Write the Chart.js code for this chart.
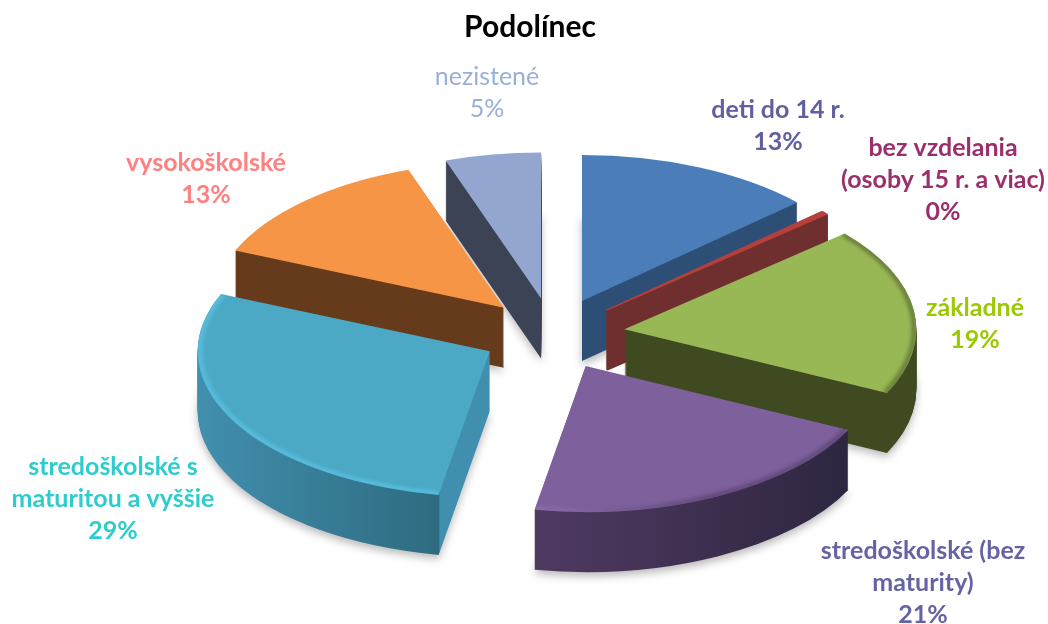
<!DOCTYPE html>
<html>
<head>
<meta charset="utf-8">
<title>Podolínec</title>
<script src="https://cdn.jsdelivr.net/npm/chart.js@4"></script>
<style>
	html, body { margin: 0; padding: 0; background: #fff; }
	canvas { display: block; }
</style>
</head>
<body>
<canvas id="chart" width="1048" height="624"></canvas>
<script>
// Chart data
var chartTitle = 'Podolínec';
var categories = [
	['deti do 14 r.'],
	['bez vzdelania', '(osoby 15 r. a viac)'],
	['základné'],
	['stredoškolské (bez', 'maturity)'],
	['stredoškolské s', 'maturitou a vyššie'],
	['vysokoškolské'],
	['nezistené']
];
var shares = [13.2, 0.4, 18.6, 20.6, 28.6, 13.3, 5.3];

// Colours
var faceColors = ['#4b7db8', '#b5403c', '#98b855', '#7e609c', '#4ba9c5', '#f69545', '#92a6cf'];
var wallLeft = ['#2d4e75', '#6f2f2f', '#3f4a20', '#4f3a62', '#418fae', '#653b1b', '#3b4355'];
var wallRight = ['#2d4e75', '#6f2f2f', '#3f4a20', '#2e2640', '#2e6b80', '#653b1b', '#3b4355'];
var rimLeft = [null, null, '#46522a', '#a487c4', '#62cdf0', null, null];
var rimRight = [null, null, '#46522a', '#4a3a62', '#62cdf0', null, null];
var labelColors = ['#6060a0', '#9b2f6b', '#9bc800', '#6464a4', '#2ecccc', '#ff8080', '#98b0d8'];
var labelWeights = ['bold', 'bold', 'bold', 'bold', 'bold', 'bold', 'normal'];

// Layout of the tilted pie
var pieX = 553, pieY = 334, squash = 0.5, depth = 60, explode = 72, pieRadius = 292;
var labelX = [778, 943, 975, 923, 113, 206, 487];
var labelY = [110, 148, 308, 551, 467, 163, 77];
var lineHeight = 32;

function withSliceTransform(ctx, arc, lift) {
	var mid = (arc.startAngle + arc.endAngle) / 2;
	ctx.translate(pieX, pieY + lift);
	ctx.scale(1, squash);
	ctx.translate(Math.cos(mid) * explode - arc.x, Math.sin(mid) * explode - arc.y);
}

function drawArcAs(ctx, arc, color, outline) {
	var saved = arc.options;
	var opts = Object.create(saved);
	opts.backgroundColor = color;
	opts.borderColor = color;
	opts.borderWidth = outline;
	arc.options = opts;
	arc.draw(ctx);
	arc.options = saved;
}

// horizontal shade over the curved wall, a radial wall past the front corner stays light
// (coordinates are local to the arc, the gradient is used inside withSliceTransform)
function wallGradient(ctx, arc, i) {
	var x1 = arc.x + Math.cos(arc.startAngle) * arc.outerRadius;
	var x2 = arc.x + Math.cos(arc.endAngle) * arc.outerRadius;
	var left = Math.min(x1, x2, arc.x);
	if (arc.startAngle < Math.PI && arc.endAngle > Math.PI) left = arc.x - arc.outerRadius;
	var right = Math.max(x1, x2, arc.x);
	var grad = ctx.createLinearGradient(left, 0, right, 0);
	var stop = (Math.max(x1, x2) - left) / (right - left);
	grad.addColorStop(0, wallLeft[i]);
	grad.addColorStop(stop, wallRight[i]);
	if (stop < 1) {
		grad.addColorStop(Math.min(stop + 0.005, 1), wallLeft[i]);
		grad.addColorStop(1, wallLeft[i]);
	}
	return grad;
}

var tiltedPie = {
	id: 'tiltedPie',
	beforeDatasetsDraw: function(chart) {
		var ctx = chart.ctx;
		var arcs = chart.getDatasetMeta(0).data;

		// back slices first so the front ones cover their walls
		var order = arcs.map(function(arc, i) { return i; });
		order.sort(function(a, b) {
			var midA = (arcs[a].startAngle + arcs[a].endAngle) / 2;
			var midB = (arcs[b].startAngle + arcs[b].endAngle) / 2;
			return Math.sin(midA) - Math.sin(midB);
		});

		order.forEach(function(i) {
			var arc = arcs[i];
			var thin = arc.circumference < 0.1;
			var wall = wallGradient(ctx, arc, i);

			// walls, stacked from the bottom up
			for (var d = depth; d > 0; d--) {
				ctx.save();
				if (d === depth && !thin) {
					ctx.shadowColor = 'rgba(0,0,0,0.28)';
					ctx.shadowBlur = 9;
					ctx.shadowOffsetY = 4;
				}
				withSliceTransform(ctx, arc, d);
				drawArcAs(ctx, arc, wall, thin ? 3 : 0);
				ctx.restore();
			}

			// top face
			ctx.save();
			withSliceTransform(ctx, arc, 0);
			drawArcAs(ctx, arc, faceColors[i], thin ? 2 : 0);
			ctx.restore();

			// soft bevel along the outer edge
			if (rimLeft[i]) {
				var rimGrad = ctx.createLinearGradient(pieX - 50, 0, pieX + 150, 0);
				rimGrad.addColorStop(0, rimLeft[i]);
				rimGrad.addColorStop(1, rimRight[i]);
				ctx.save();
				withSliceTransform(ctx, arc, 0);
				ctx.beginPath();
				ctx.moveTo(arc.x, arc.y);
				ctx.arc(arc.x, arc.y, arc.outerRadius, arc.startAngle, arc.endAngle);
				ctx.closePath();
				ctx.clip();
				ctx.beginPath();
				ctx.arc(arc.x, arc.y, arc.outerRadius - 2, arc.startAngle, arc.endAngle);
				ctx.setTransform(1, 0, 0, 1, 0, 0);
				ctx.filter = 'blur(2px)';
				ctx.globalAlpha = 0.75;
				ctx.lineWidth = 4;
				ctx.strokeStyle = rimGrad;
				ctx.stroke();
				ctx.restore();
			}
		});
		return false;
	},
	afterDraw: function(chart) {
		var ctx = chart.ctx;
		var total = shares.reduce(function(a, b) { return a + b; }, 0);
		ctx.save();
		ctx.textAlign = 'center';
		ctx.textBaseline = 'middle';
		categories.forEach(function(lines, i) {
			var text = lines.concat(Math.round(shares[i] / total * 100) + '%');
			ctx.fillStyle = labelColors[i];
			ctx.font = labelWeights[i] + ' 25px Lato';
			text.forEach(function(line, n) {
				ctx.fillText(line, labelX[i], labelY[i] + n * lineHeight);
			});
		});
		ctx.restore();
	}
};

new Chart(document.getElementById('chart').getContext('2d'), {
	type: 'pie',
	data: {
		labels: categories,
		datasets: [{
			data: shares,
			backgroundColor: faceColors,
			borderWidth: 0,
			radius: pieRadius,
			clip: false
		}]
	},
	options: {
		responsive: false,
		animation: false,
		layout: { padding: { left: 12 } },
		plugins: {
			legend: { display: false },
			tooltip: { enabled: false },
			title: {
				display: true,
				text: chartTitle,
				color: '#000',
				font: { family: 'Lato', size: 30, weight: 'bold' },
				padding: { top: 9, bottom: 10 }
			}
		}
	},
	plugins: [tiltedPie]
});
</script>
</body>
</html>
